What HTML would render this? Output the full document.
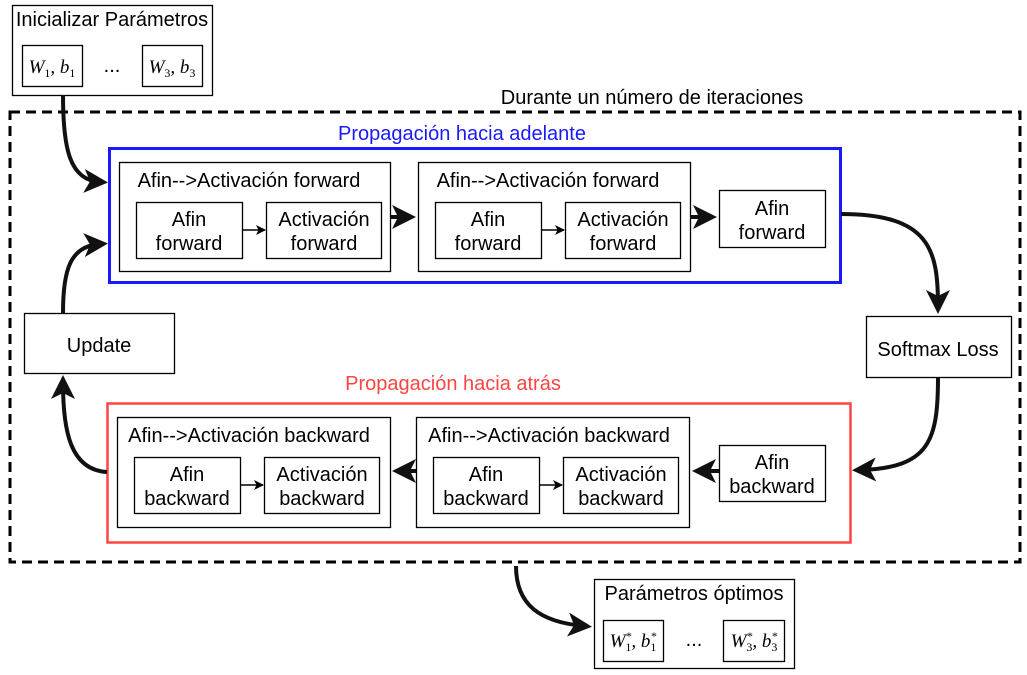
<!DOCTYPE html>
<html><head><meta charset="utf-8"><style>body{margin:0;background:#fff}svg{display:block}text{font-family:"Liberation Sans",sans-serif;font-size:20px;fill:#000}.m{font-family:"Liberation Serif",serif;font-style:italic;font-size:19px}</style></head><body>
<svg width="1027" height="675" viewBox="0 0 1027 675" xmlns="http://www.w3.org/2000/svg">
<defs>
<marker id="big" markerWidth="6" markerHeight="6" refX="4" refY="3" orient="auto" markerUnits="strokeWidth"><path d="M0,0 L6,3 L0,6 L1.5,3 Z" fill="#111"/></marker>
<marker id="sm" markerWidth="10" markerHeight="10" refX="9" refY="5" orient="auto" markerUnits="userSpaceOnUse"><path d="M0,0 L10,5 L0,10 L2.5,5 Z" fill="#000"/></marker>
</defs>
<g fill="none" stroke="#000" stroke-width="1.3">
<rect x="12.5" y="5.5" width="200" height="90"/>
<rect x="22.5" y="45.5" width="60" height="41"/>
<rect x="142.5" y="45.5" width="60" height="41"/>
<rect x="10" y="112" width="1010" height="450" stroke-width="3" stroke-dasharray="10,6"/>
<rect x="109.5" y="148.5" width="731" height="134" stroke="#1a1aff" stroke-width="3"/>
<rect x="119.5" y="162.5" width="271" height="109"/>
<rect x="136.5" y="202.5" width="106" height="56"/>
<rect x="266.5" y="202.5" width="115" height="56"/>
<rect x="418.5" y="162.5" width="272" height="109"/>
<rect x="435.5" y="202.5" width="106" height="56"/>
<rect x="565.5" y="202.5" width="115" height="56"/>
<rect x="719.5" y="190.5" width="106" height="57"/>
<rect x="866.5" y="316.5" width="145" height="61"/>
<rect x="24.5" y="313.5" width="150" height="60"/>
<rect x="107.5" y="403.5" width="743" height="139" stroke="#ff4444" stroke-width="2.5"/>
<rect x="117.5" y="417.5" width="273" height="110"/>
<rect x="134.5" y="457.5" width="106" height="56"/>
<rect x="264.5" y="457.5" width="115" height="56"/>
<rect x="416.5" y="417.5" width="273" height="110"/>
<rect x="433.5" y="457.5" width="106" height="56"/>
<rect x="563.5" y="457.5" width="115" height="56"/>
<rect x="719.5" y="445.5" width="106" height="56"/>
<rect x="594.5" y="579.5" width="200" height="89"/>
<rect x="603.5" y="620.5" width="60" height="41"/>
<rect x="723.5" y="620.5" width="61" height="41"/>
</g>
<g fill="none" stroke="#111" stroke-width="4">
<path d="M63,95 C63,150 70,180 100,182" marker-end="url(#big)"/>
<path d="M63,313 C63,270 70,246 100,244" marker-end="url(#big)"/>
<path d="M107,472 C70,470 63,430 63,383" marker-end="url(#big)"/>
<path d="M841,214 C930,214 938,250 938,306" marker-end="url(#big)"/>
<path d="M938,377 C938,440 930,468 860,470" marker-end="url(#big)"/>
<path d="M516,566 C516,605 540,622 584,626" marker-end="url(#big)"/>
<path d="M391,217 L408,217" marker-end="url(#big)"/>
<path d="M690,217 L709,217" marker-end="url(#big)"/>
<path d="M719,471 L700,471" marker-end="url(#big)"/>
<path d="M416,471 L400,471" marker-end="url(#big)"/>
</g>
<g stroke="#000" stroke-width="1.5">
<line x1="242" y1="230" x2="265" y2="230" marker-end="url(#sm)"/>
<line x1="541" y1="230" x2="564" y2="230" marker-end="url(#sm)"/>
<line x1="240" y1="485" x2="263" y2="485" marker-end="url(#sm)"/>
<line x1="539" y1="485" x2="562" y2="485" marker-end="url(#sm)"/>
</g>
<text x="112" y="26" text-anchor="middle">Inicializar Parámetros</text>
<text class="m" x="52" y="73" text-anchor="middle">W<tspan font-size="12" dy="4" font-style="normal">1</tspan><tspan dy="-4">, b</tspan><tspan font-size="12" dy="4" font-style="normal">1</tspan></text>
<text x="112" y="72" text-anchor="middle">...</text>
<text class="m" x="172" y="73" text-anchor="middle">W<tspan font-size="12" dy="4" font-style="normal">3</tspan><tspan dy="-4">, b</tspan><tspan font-size="12" dy="4" font-style="normal">3</tspan></text>
<text x="652" y="104" text-anchor="middle">Durante un número de iteraciones</text>
<text x="462" y="140" text-anchor="middle" style="fill:#1a1aff">Propagación hacia adelante</text>
<text x="249" y="187" text-anchor="middle">Afin--&gt;Activación forward</text>
<text x="548" y="187" text-anchor="middle">Afin--&gt;Activación forward</text>
<g text-anchor="middle">
<text x="189" y="226">Afin</text><text x="189" y="250">forward</text>
<text x="324" y="226">Activación</text><text x="324" y="250">forward</text>
<text x="488" y="226">Afin</text><text x="488" y="250">forward</text>
<text x="623" y="226">Activación</text><text x="623" y="250">forward</text>
<text x="772" y="215">Afin</text><text x="772" y="239">forward</text>
<text x="938" y="356">Softmax Loss</text>
<text x="99" y="352">Update</text>
<text x="453" y="390" style="fill:#ff4444">Propagación hacia atrás</text>
<text x="249" y="442">Afin--&gt;Activación backward</text>
<text x="549" y="442">Afin--&gt;Activación backward</text>
<text x="187" y="481">Afin</text><text x="187" y="505">backward</text>
<text x="322" y="481">Activación</text><text x="322" y="505">backward</text>
<text x="486" y="481">Afin</text><text x="486" y="505">backward</text>
<text x="621" y="481">Activación</text><text x="621" y="505">backward</text>
<text x="772" y="469">Afin</text><text x="772" y="493">backward</text>
<text x="694" y="600">Parámetros óptimos</text>
<text x="694" y="646">...</text>
</g>
<text class="m" x="633" y="647" text-anchor="middle">W<tspan font-size="12" dy="4" font-style="normal">1</tspan><tspan font-size="12" dy="-11" dx="-6">*</tspan><tspan dy="7">, b</tspan><tspan font-size="12" dy="4" font-style="normal">1</tspan><tspan font-size="12" dy="-11" dx="-6">*</tspan></text>
<text class="m" x="754" y="647" text-anchor="middle">W<tspan font-size="12" dy="4" font-style="normal">3</tspan><tspan font-size="12" dy="-11" dx="-6">*</tspan><tspan dy="7">, b</tspan><tspan font-size="12" dy="4" font-style="normal">3</tspan><tspan font-size="12" dy="-11" dx="-6">*</tspan></text>
</svg>
</body></html>
